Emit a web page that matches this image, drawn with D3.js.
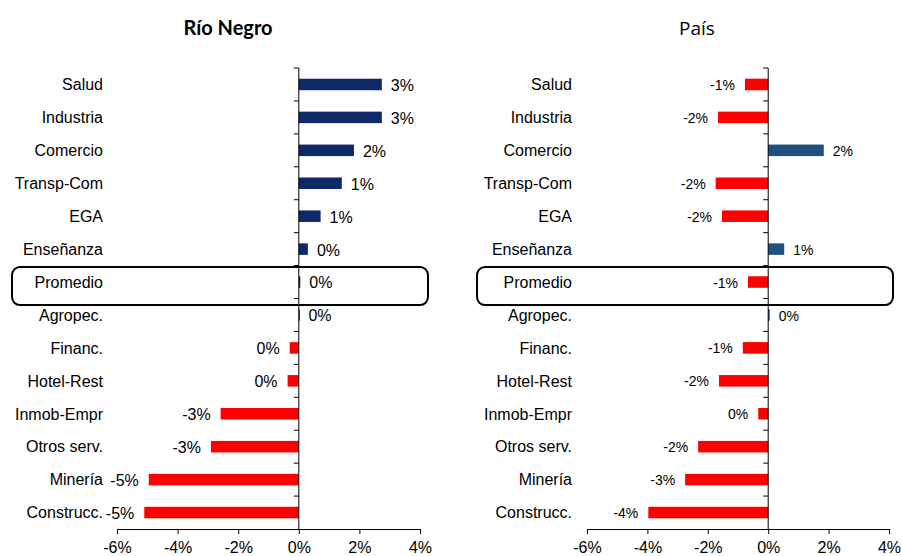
<!DOCTYPE html>
<html>
<head>
<meta charset="utf-8">
<script src="https://cdn.jsdelivr.net/npm/d3@7"></script>
<style>
  html, body { margin: 0; padding: 0; background: #fff; }
  svg { display: block; font-family: Arial, "Liberation Sans", sans-serif; }
</style>
</head>
<body>
<div id="chart"></div>
<script>
/* datos: variación por sector (%) */
const sectores = ["Salud", "Industria", "Comercio", "Transp-Com", "EGA", "Enseñanza", "Promedio",
                  "Agropec.", "Financ.", "Hotel-Rest", "Inmob-Empr", "Otros serv.", "Minería", "Construcc."];
const valoresRioNegro = [2.74, 2.74, 1.82, 1.42, 0.72, 0.30, 0.05, 0.02, -0.30, -0.37, -2.58, -2.90, -4.95, -5.10];
const valoresPais = [-0.77, -1.66, 1.84, -1.74, -1.53, 0.53, -0.67, 0.05, -0.84, -1.63, -0.33, -2.32, -2.75, -3.97];
const ticksX = [-6, -4, -2, 0, 2, 4];
const titulos = ["Río Negro", "País"];

const W = 901, H = 556;
const svg = d3.select("#chart").append("svg").attr("width", W).attr("height", H);

const y = d3.scaleBand().domain(sectores).range([68, 529]).paddingInner(0.65).paddingOuter(0.325);
const fmt = v => `${Math.round(v)}%`;

function panel(cfg) {
  const x = d3.scaleLinear().domain([-6, 4]).range(cfg.range);
  const g = svg.append("g");

  // título
  g.append("text")
    .attr("x", cfg.titleX).attr("y", 35)
    .attr("text-anchor", "middle")
    .style("font-family", cfg.bold ? "Lato, 'Open Sans', sans-serif" : "'Open Sans', sans-serif")
    .style("font-size", cfg.bold ? "20px" : "19px")
    .style("font-weight", cfg.bold ? "bold" : "400")
    .attr("fill", "#000")
    .text(cfg.title);

  // barras
  g.selectAll("rect.bar")
    .data(sectores.map((s, i) => ({ s, v: cfg.values[i] })))
    .enter().append("rect")
    .attr("class", "bar")
    .attr("x", d => x(Math.min(0, d.v)))
    .attr("width", d => Math.max(1, Math.abs(x(d.v) - x(0))))
    .attr("y", d => y(d.s))
    .attr("height", y.bandwidth())
    .attr("fill", d => d.v >= 0 ? cfg.posColor : "#ff0000");

  // etiquetas de valor
  g.selectAll("text.val")
    .data(sectores.map((s, i) => ({ s, v: cfg.values[i] })))
    .enter().append("text")
    .attr("class", "val")
    .attr("x", d => d.v >= 0 ? x(d.v) + 9 : x(d.v) - 10)
    .attr("y", d => y(d.s) + y.bandwidth() / 2)
    .attr("dy", "0.4em")
    .attr("text-anchor", d => d.v >= 0 ? "start" : "end")
    .style("font-size", cfg.valSize)
    .attr("fill", "#000")
    .text(d => fmt(d.v));

  // eje x
  const ax = g.append("g")
    .attr("transform", "translate(0,529)")
    .call(d3.axisBottom(x).tickValues(ticksX).tickFormat(d => d + "%").tickSize(5).tickSizeOuter(0));
  ax.select(".domain").attr("stroke", "#000");
  ax.selectAll(".tick line").attr("stroke", "#000");
  ax.selectAll(".tick text")
    .attr("y", 0).attr("dy", null)
    .attr("transform", "translate(0,24)")
    .style("font-family", "Arial, 'Liberation Sans', sans-serif")
    .style("font-size", "16px").attr("fill", "#000");

  // eje y en cero con marcas entre categorías
  const x0 = x(0);
  const gap = (y.step() - y.bandwidth()) / 2;
  g.append("line")
    .attr("x1", x0).attr("x2", x0).attr("y1", 68).attr("y2", 529)
    .attr("stroke", "#000");
  g.selectAll("line.tk")
    .data(sectores)
    .enter().append("line")
    .attr("x1", x0 - 5).attr("x2", x0)
    .attr("y1", d => y(d) - gap)
    .attr("y2", d => y(d) - gap)
    .attr("stroke", "#000");

  // nombres de sectores
  g.selectAll("text.cat")
    .data(sectores)
    .enter().append("text")
    .attr("class", "cat")
    .attr("x", cfg.labelX)
    .attr("y", d => y(d) + y.bandwidth() / 2)
    .attr("dy", "0.36em")
    .attr("text-anchor", "end")
    .style("font-size", "16px")
    .attr("fill", "#000")
    .text(d => d);

  // recuadro del promedio
  g.append("rect")
    .attr("x", cfg.box[0]).attr("width", cfg.box[1] - cfg.box[0])
    .attr("y", y("Promedio") + y.bandwidth() / 2 - 15).attr("height", 38)
    .attr("rx", 8).attr("ry", 8)
    .attr("fill", "none").attr("stroke", "#000").attr("stroke-width", 2);
}

panel({ title: titulos[0], bold: true, titleX: 228, values: valoresRioNegro, range: [117, 420],
        posColor: "#0f2a68", valSize: "16px", labelX: 103, box: [12, 428] });
panel({ title: titulos[1], bold: false, titleX: 697, values: valoresPais, range: [587, 889],
        posColor: "#1f5080", valSize: "14px", labelX: 572, box: [477, 893] });
</script>
</body>
</html>
